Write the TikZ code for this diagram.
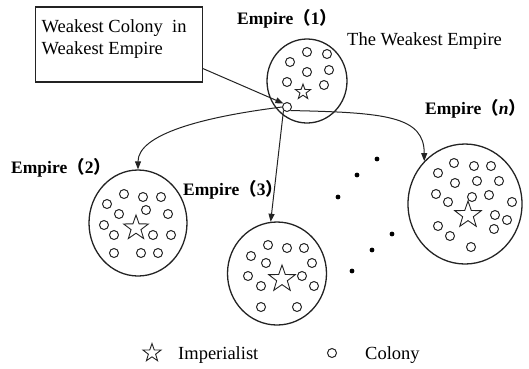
\documentclass[tikz,border=0pt]{standalone}
\usepackage{fontspec}
\setmainfont{Liberation Serif}
\newfontfamily\cjk{Noto Sans CJK SC}
\usepackage{tikz}
\usetikzlibrary{shapes.geometric,arrows.meta}
\usepackage{xcolor}
\definecolor{inkgrey}{RGB}{35,35,35}

\newcommand{\emplabel}[1]{\textbf{Empire}{\cjk\bfseries （}\textbf{#1}{\cjk\bfseries ）\kern-0.5em}}

\begin{document}
\begin{tikzpicture}[
    x=1pt, y=-1pt,
    font=\fontsize{18.5}{22}\selectfont,
    empire/.style={ellipse, draw=inkgrey, line width=1.3pt, inner sep=0pt},
    colony/.style={circle, draw=inkgrey, line width=1pt, minimum size=9pt, inner sep=0pt},
    imperialist/.style={star, star points=5, star point ratio=2.5, draw=inkgrey, line width=0.9pt, inner sep=0pt},
    title/.style={font=\fontsize{17.5}{20}\selectfont, anchor=base west, inner sep=0pt},
    plain/.style={anchor=base west, inner sep=0pt},
    link/.style={-{Triangle[length=8pt,width=6pt]}, inkgrey, line width=1pt}
]
\useasboundingbox (0,0) rectangle (529,368);

\node[draw=inkgrey, line width=1.1pt, minimum width=167pt, minimum height=75pt,
      label={[anchor=north west, align=left, inner xsep=6.5pt, inner ysep=13pt]north west:{Weakest Colony~ in\\Weakest Empire}}] (box) at (119,44.5) {};

\node[empire, minimum width=80pt, minimum height=84pt] (e1) at (307,81) {};
\node[empire, minimum width=98pt, minimum height=106pt] (e2) at (138,223) {};
\node[empire, minimum width=99pt, minimum height=103pt] (e3) at (277,273.5) {};
\node[empire, minimum width=114pt, minimum height=120pt] (en) at (465,204) {};

\node[imperialist, minimum size=16pt] (imp1) at (303,92) {};
\node[imperialist, minimum size=26pt] (imp2) at (136,228) {};
\node[imperialist, minimum size=28pt] (imp3) at (282,279) {};
\node[imperialist, minimum size=28pt] (impn) at (468,215) {};

\foreach \p [count=\i] in {(307,52),(327,54),(290,62),(307,72),(329,70),(287,82),(324,85)}
    \node[colony] (c1-\i) at \p {};
\foreach \p [count=\i] in {(124,194),(143,197),(161,197),(107,204),(119,214),(146,210),(168,214),
    (104,225),(114,235),(153,235),(171,235),(114,253),(141,253),(158,253)}
    \node[colony] (c2-\i) at \p {};
\foreach \p [count=\i] in {(268,245),(287,248),(304,248),(251,256),(266,263),(312,263),
    (248,276),(261,286),(302,276),(314,286),(261,307),(297,307)}
    \node[colony] (c3-\i) at \p {};
\foreach \p [count=\i] in {(454,163),(474,166),(491,166),(438,173),(455,183),(477,181),(499,181),
    (436,194),(448,202),(472,197),(489,195),(512,202),(495,215),(507,220),(438,226),(450,236),
    (494,229),(471,247)}
    \node[colony] (cn-\i) at \p {};
\node[colony] (cw) at (287,107) {};

\foreach \p in {(377,159),(357,175),(338,197),(392,234),(372,250),(352,271)}
    \fill[black] \p circle (2.4);

\node[title] (t1) at (237,24) {\emplabel{1}};
\node[plain] (tw) at (347,45) {The Weakest Empire};
\node[title] (tn) at (425,114) {\emplabel{\textit{n}}};
\node[title] (t2) at (11,173) {\emplabel{2}};
\node[title] (t3) at (183,195) {\emplabel{3}};

\draw[link] (box.-16) -- (cw.north west);
\draw[link] (cw.west) .. controls +(-80,10) and +(0,-35) .. (e2.north);
\draw[link] (cw.south west) -- (e3.97);
\draw[link] (cw.south east) .. controls +(95,2) and +(0,-45) .. (en.north west);

\node[imperialist, minimum size=19pt] (lgi) at (152,353) {};
\node[plain] (lgit) at (178,359) {Imperialist};
\node[colony] (lgc) at (332,353) {};
\node[plain] (lgct) at (365,359) {Colony};
\end{tikzpicture}
\end{document}
